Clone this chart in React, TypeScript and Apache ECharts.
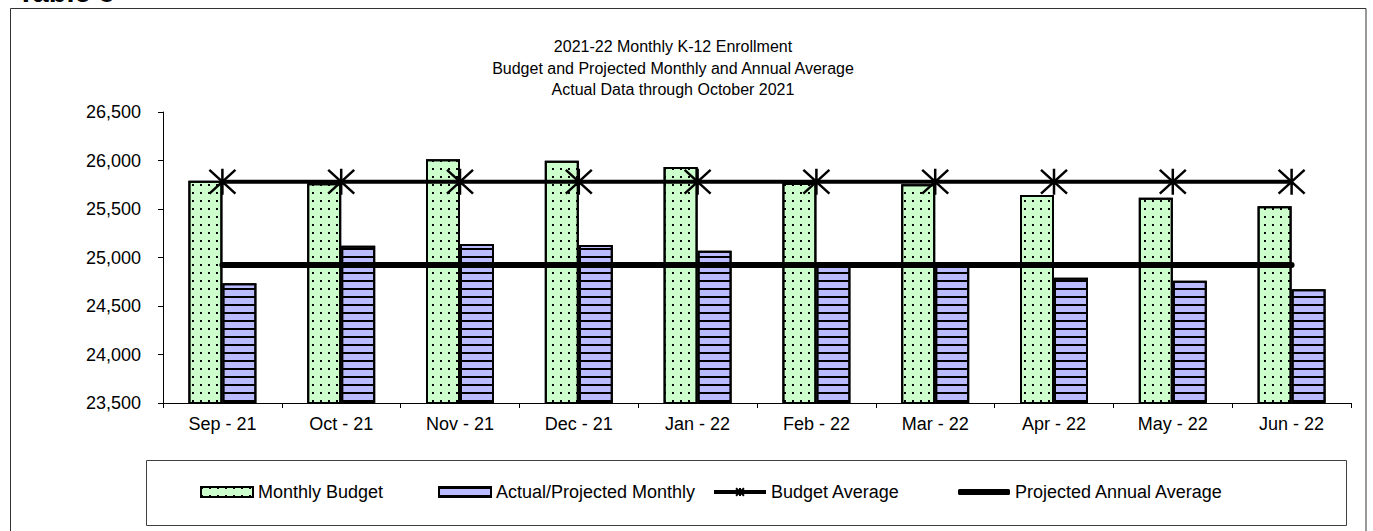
import React, { useEffect, useRef } from 'react';
import * as echarts from 'echarts';

const categories = ['Sep - 21', 'Oct - 21', 'Nov - 21', 'Dec - 21', 'Jan - 22', 'Feb - 22', 'Mar - 22', 'Apr - 22', 'May - 22', 'Jun - 22'];
const monthlyBudget = [25790, 25765, 26012, 25998, 25933, 25768, 25755, 25645, 25617, 25528];
const actualProjected = [24734, 25122, 25140, 25130, 25070, 24930, 24920, 24790, 24761, 24672];
const budgetAverage = [25781, 25781, 25781, 25781, 25781, 25781, 25781, 25781, 25781, 25781];
const projectedAverage = [24923, 24923, 24923, 24923, 24923, 24923, 24923, 24923, 24923, 24923];
const yMin = 23500;
const yMax = 26500;
const yInterval = 500;
const titleLines = ['2021-22 Monthly K-12 Enrollment', 'Budget and Projected Monthly and Annual Average', 'Actual Data through October 2021'];
const seriesNames = ['Monthly Budget', 'Actual/Projected Monthly', 'Budget Average', 'Projected Annual Average'];

const FONT = '"Liberation Sans", Arial, Helvetica, sans-serif';
const STAR = 'path://M0,0L20,20M20,0L0,20M10,-1L10,21';

export default function App() {
  const ref = useRef<HTMLDivElement>(null);
  useEffect(() => {
    if (!ref.current) return;
    const chart = echarts.init(ref.current, null, { renderer: 'svg' });
    const legendBase = {
      top: 483,
      itemWidth: 52,
      itemHeight: 10,
      padding: 0,
      selectedMode: false,
      textStyle: { fontFamily: FONT, fontSize: 18, color: '#000' },
    };
    chart.setOption({
      animation: false,
      backgroundColor: '#fff',
      textStyle: { fontFamily: FONT },
      title: {
        text: titleLines.join('\n'),
        left: 668,
        top: 31,
        textAlign: 'center',
        textStyle: { fontFamily: FONT, fontSize: 16, fontWeight: 'normal', color: '#000', lineHeight: 21.5 },
      },
      grid: { left: 163, right: 22, top: 112, bottom: 128 },
      xAxis: {
        type: 'category',
        data: categories,
        boundaryGap: true,
        axisLine: { lineStyle: { color: '#000', width: 1 } },
        axisTick: { show: true, length: 5, inside: false, alignWithLabel: false, lineStyle: { color: '#000' } },
        axisLabel: { color: '#000', fontSize: 18, fontFamily: FONT, margin: 12 },
      },
      yAxis: {
        type: 'value',
        min: yMin,
        max: yMax,
        interval: yInterval,
        splitLine: { show: false },
        axisLine: { show: true, lineStyle: { color: '#000', width: 1 } },
        axisTick: { show: true, length: 5, lineStyle: { color: '#000' } },
        axisLabel: {
          color: '#000',
          fontSize: 18,
          fontFamily: FONT,
          margin: 22,
          formatter: (v: number) => v.toLocaleString('en-US'),
        },
      },
      legend: [
        { ...legendBase, left: 200, data: [{ name: seriesNames[0], icon: 'rect' }] },
        { ...legendBase, left: 438, data: [{ name: seriesNames[1], icon: 'rect' }] },
        { ...legendBase, left: 712, lineStyle: { width: 4 }, data: [seriesNames[2]] },
        {
          ...legendBase,
          left: 958,
          itemHeight: 6,
          data: [{ name: seriesNames[3], icon: 'roundRect', itemStyle: { color: '#000' } }],
        },
      ],
      graphic: [
        {
          type: 'text',
          style: { x: 17, y: -8.5, verticalAlign: 'middle', text: 'Table 5', font: 'bold 29px ' + FONT, fill: '#000' },
        },
        {
          type: 'rect',
          shape: { x: 10.5, y: 8.5, width: 1355.5, height: 540 },
          style: { fill: 'none', stroke: '#333', lineWidth: 1 },
          silent: true,
        },
        {
          type: 'rect',
          shape: { x: 146.5, y: 460.5, width: 1200, height: 65 },
          style: { fill: 'none', stroke: '#404040', lineWidth: 1 },
          silent: true,
        },
      ],
      series: [
        {
          name: seriesNames[0],
          type: 'bar',
          data: monthlyBudget,
          barWidth: 34,
          barGap: '0%',
          itemStyle: {
            color: '#CCFFCC',
            borderColor: '#000',
            borderWidth: 2,
            decal: {
              symbol: 'rect',
              symbolSize: 1,
              color: '#000',
              dashArrayX: [2, 6],
              dashArrayY: [2, 6],
              rotation: 0,
            },
          },
          emphasis: { disabled: true },
        },
        {
          name: seriesNames[1],
          type: 'bar',
          data: actualProjected,
          barWidth: 34,
          barGap: '0%',
          itemStyle: {
            color: '#BBBBFF',
            borderColor: '#000',
            borderWidth: 2,
            decal: {
              symbol: 'rect',
              symbolSize: 1,
              color: '#000',
              dashArrayX: [1, 0],
              dashArrayY: [2, 6],
              rotation: 0,
            },
          },
          emphasis: { disabled: true },
        },
        {
          name: seriesNames[2],
          type: 'line',
          data: budgetAverage,
          z: 5,
          symbol: STAR,
          symbolSize: 26,
          showSymbol: true,
          lineStyle: { color: '#000', width: 4 },
          itemStyle: { color: '#000', borderColor: '#000', borderWidth: 2.5 },
          emphasis: { disabled: true },
        },
        {
          name: seriesNames[3],
          type: 'line',
          data: projectedAverage,
          z: 5,
          symbol: 'none',
          showSymbol: false,
          lineStyle: { color: '#000', width: 6, cap: 'round' },
          itemStyle: { color: '#000' },
          emphasis: { disabled: true },
        },
      ],
    });
    return () => chart.dispose();
  }, []);
  return <div ref={ref} style={{ position: 'fixed', left: 0, top: 0, width: 1373, height: 531 }} />;
}
